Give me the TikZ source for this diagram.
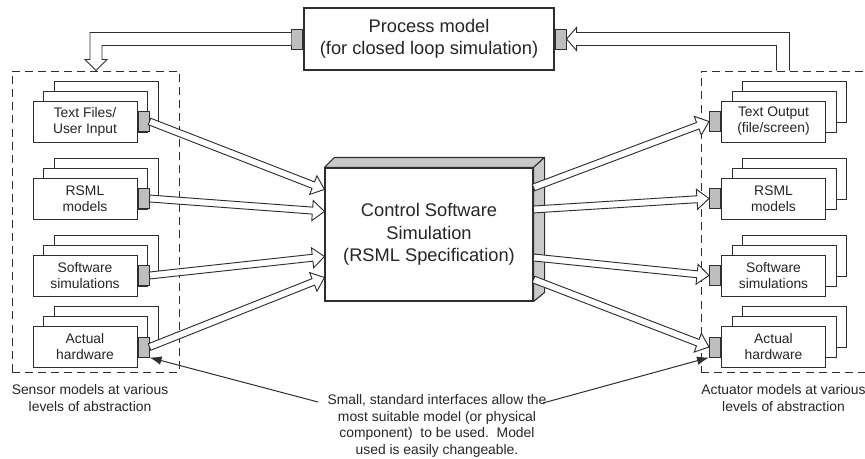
\documentclass[tikz,border=0pt]{standalone}
\usepackage{fontspec}
\setmainfont{Liberation Sans}
\usetikzlibrary{calc,arrows.meta}
\definecolor{linec}{HTML}{2E2E2E}
\definecolor{textc}{HTML}{262626}
\definecolor{portc}{HTML}{BEBEC0}
\definecolor{sidec}{HTML}{C8C9CB}

% stacked model boxes: name, front-centre x, front-centre y, text
\newcommand\mystack[4]{%
  \node[mbox] (#1b) at (#2+21,#3-20) {};
  \node[mbox] (#1m) at (#2+10.5,#3-10) {};
  \node[mbox] (#1) at (#2,#3) {#4};}
% hollow block arrow from #1 to #2
\newcommand\harrow[2]{%
  \draw[harrowst] let \p1=(#1), \p2=(#2), \n1={atan2(\y2-\y1,\x2-\x1)} in
    ($(\p1)+({\n1+90}:2.6pt)$)
 -- ($(\p2)+({\n1+180}:9pt)+({\n1+90}:2.6pt)$)
 -- ($(\p2)+({\n1+180}:9pt)+({\n1+90}:7.5pt)$)
 -- (\p2)
 -- ($(\p2)+({\n1+180}:9pt)+({\n1-90}:7.5pt)$)
 -- ($(\p2)+({\n1+180}:9pt)+({\n1-90}:2.6pt)$)
 -- ($(\p1)+({\n1-90}:2.6pt)$) -- cycle;}

\begin{document}
\begin{tikzpicture}[x=0.75pt,y=-0.75pt,
  mbox/.style={draw=linec, line width=0.75pt, fill=white, minimum width=78pt,
    minimum height=30.75pt, inner sep=0pt, align=center, text=textc,
    font=\fontsize{10.4}{12}\selectfont},
  portbox/.style={draw=linec, line width=0.75pt, fill=portc, minimum width=8.25pt,
    minimum height=15pt, inner sep=0pt},
  harrowst/.style={draw=linec, fill=white, line width=0.7pt, line join=miter},
  dashbox/.style={draw=linec, line width=0.75pt, dash pattern=on 6pt off 3.8pt,
    inner sep=0pt},
  bigbox/.style={draw=linec, line width=0.8pt, fill=white, inner sep=0pt,
    align=center, text=textc, font=\fontsize{13.7}{16.9}\selectfont},
  caption/.style={align=center, text=textc, inner sep=0pt,
    font=\fontsize{10.4}{12.75}\selectfont},
  ptr/.style={draw=linec, line width=0.75pt, -{Latex[length=9pt,width=6.5pt]}}]
\useasboundingbox (0,0) rectangle (865,458);

% dashed group boxes
\node[dashbox, minimum width=125.25pt, minimum height=225.75pt] (sens) at (95.5,221.5) {};
\node[dashbox, minimum width=134.25pt, minimum height=225.75pt] (act) at (790.5,221.5) {};

% process model
\node[bigbox, minimum width=187.5pt, minimum height=46.5pt] (pm) at (429,39)
  {Process model\\(for closed loop simulation)};
\node[portbox, anchor=east] (pl) at (pm.west) {};
\node[portbox, anchor=west] (pr) at (pm.east) {};

% control software box
\node[bigbox, minimum width=156pt, minimum height=99.75pt] (ctrl) at (429,234.5)
  {Control Software\\Simulation\\(RSML Specification)};
\filldraw[draw=linec, fill=sidec, line width=0.8pt, line join=round]
  (ctrl.north west) -- ++(10,-10) -- ($(ctrl.north east)+(11,-10)$) -- (ctrl.north east) -- cycle;
\filldraw[draw=linec, fill=sidec, line width=0.8pt, line join=round]
  (ctrl.north east) -- ++(11,-10) -- ($(ctrl.south east)+(11,-9)$) -- (ctrl.south east) -- cycle;

% sensor stacks
\mystack{s1}{85}{121.5}{Text Files/\\User Input}
\mystack{s2}{85}{198.5}{RSML\\models}
\mystack{s3}{85}{275.5}{Software\\simulations}
\mystack{s4}{85}{347}{Actual\\hardware}
\foreach \i in {1,...,4}{\node[portbox, anchor=west] (s\i p) at (s\i.east) {};}

% actuator stacks
\mystack{a1}{773.5}{121.5}{Text Output\\(file/screen)}
\mystack{a2}{773.5}{198.5}{RSML\\models}
\mystack{a3}{773.5}{275.5}{Software\\simulations}
\mystack{a4}{773.5}{347}{Actual\\hardware}
\foreach \i in {1,...,4}{\node[portbox, anchor=east] (a\i p) at (a\i.west) {};}

% connection points on the control box
\coordinate (i1) at ($(ctrl.north west)+(0,22)$);
\coordinate (i2) at ($(ctrl.north west)+(0,44)$);
\coordinate (i3) at ($(ctrl.north west)+(0,89)$);
\coordinate (i4) at ($(ctrl.north west)+(0,110)$);
\coordinate (o1) at ($(ctrl.north east)+(0,20)$);
\coordinate (o2) at ($(ctrl.north east)+(0,42)$);
\coordinate (o3) at ($(ctrl.north east)+(0,90)$);
\coordinate (o4) at ($(ctrl.north east)+(0,112)$);

\harrow{s1p.east}{i1}
\harrow{s2p.east}{i2}
\harrow{s3p.east}{i3}
\harrow{s4p.east}{i4}
\harrow{o1}{a1p.west}
\harrow{o2}{a2p.west}
\harrow{o3}{a3p.west}
\harrow{o4}{a4p.west}

% feedback arrows
\coordinate (lft) at ($(sens.north)+(0.5,0)$);
\draw[harrowst] ($(pl.west)+(0,-6.5)$) -| ($(lft)+(-6,-11)$) -- ($(lft)+(-11,-11)$)
  -- (lft) -- ($(lft)+(11,-11)$) -- ($(lft)+(6,-11)$) |- ($(pl.west)+(0,6.5)$);
\coordinate (ra) at ($(act.north west)+(76,0)$);
\coordinate (rb) at ($(act.north west)+(89,0)$);
\draw[harrowst] (ra) |- ($(pr.east)+(10,6.5)$) -- ($(pr.east)+(10,11.5)$) -- (pr.east)
  -- ($(pr.east)+(10,-11.5)$) -- ($(pr.east)+(10,-6.5)$) -| (rb);

% captions
\node[caption] (scap) at (90,398.5) {Sensor models at various\\levels of abstraction};
\node[caption] (acap) at (783.5,398.5) {Actuator models at various\\levels of abstraction};
\node[caption, font=\fontsize{10.4}{12.5}\selectfont] (note) at (437,426)
  {Small, standard interfaces allow the\\most suitable model (or physical\\component)\ \ to be used.\ \ Model\\used is easily changeable.};
\coordinate (nl) at (318,402);
\coordinate (nr) at (543,403);
\draw[ptr] (nl) -- (s4p.south east);
\draw[ptr] (nr) -- (a4p.south west);
\end{tikzpicture}
\end{document}
